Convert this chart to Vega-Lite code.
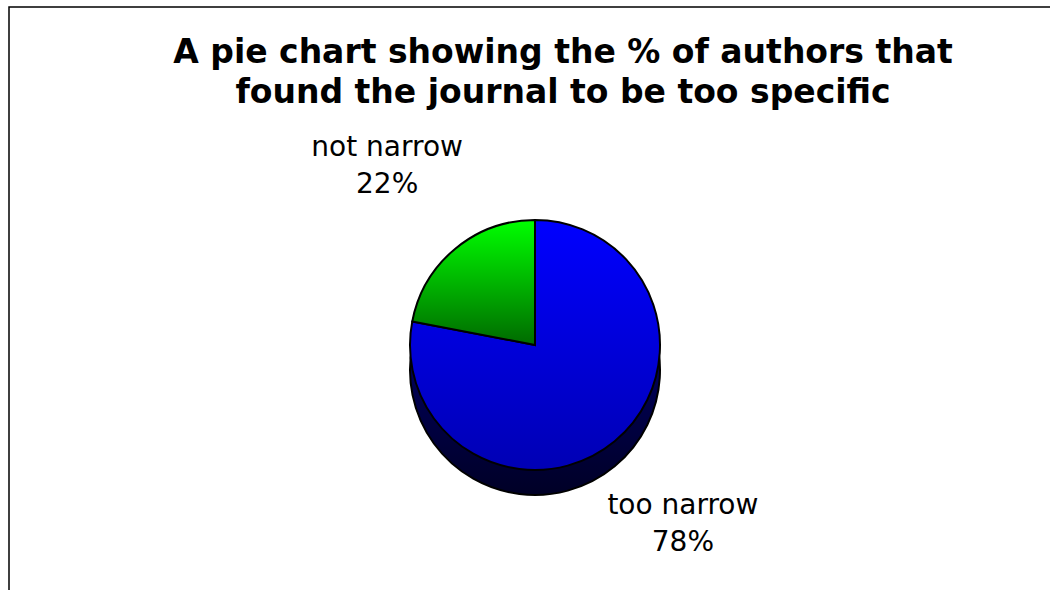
{
  "$schema": "https://vega.github.io/schema/vega-lite/v6.json",
  "width": 1052,
  "height": 676,
  "autosize": "none",
  "padding": {"left": 9, "top": 7, "right": 0, "bottom": 0},
  "background": "white",
  "view": {"stroke": "#000000", "strokeWidth": 1.5, "fill": "#FFFFFF"},
  "config": {"view": {"stroke": "#000000", "strokeWidth": 1.5}},
  "title": {
    "text": ["A pie chart showing the % of authors that", "found the journal to be too specific"],
    "font": "DejaVu Sans",
    "fontSize": 33,
    "fontWeight": "bold",
    "color": "#000000",
    "anchor": "middle",
    "lineHeight": 40,
    "offset": -103,
    "dx": 28
  },
  "data": {
    "values": [
      {"category": "too narrow", "share": 0.78},
      {"category": "not narrow", "share": 0.22}
    ]
  },
  "layer": [
    {
      "mark": {
        "type": "arc",
        "radius": 125,
        "yOffset": 25,
        "stroke": "#000000",
        "strokeWidth": 2,
        "fill": {
          "gradient": "linear",
          "x1": 0, "y1": 0, "x2": 0, "y2": 1,
          "stops": [
            {"offset": 0, "color": "#000086"},
            {"offset": 1, "color": "#000026"}
          ]
        }
      },
      "encoding": {
        "theta": {"field": "share", "type": "quantitative", "stack": true},
        "order": {"field": "category", "sort": "descending"}
      }
    },
    {
      "mark": {"type": "arc", "radius": 125, "stroke": "#000000", "strokeWidth": 2},
      "encoding": {
        "theta": {"field": "share", "type": "quantitative", "stack": true},
        "order": {"field": "category", "sort": "descending"},
        "fill": {
          "condition": {
            "test": "datum.category === 'not narrow'",
            "value": {
              "gradient": "linear",
              "x1": 0, "y1": 0, "x2": 0, "y2": 1,
              "stops": [
                {"offset": 0, "color": "#00FF00"},
                {"offset": 1, "color": "#006A00"}
              ]
            }
          },
          "value": {
            "gradient": "linear",
            "x1": 0, "y1": 0, "x2": 0, "y2": 1,
            "stops": [
              {"offset": 0, "color": "#0000FF"},
              {"offset": 1, "color": "#0000B4"}
            ]
          }
        }
      }
    },
    {
      "mark": {"type": "text", "radius": 232, "dy": -18, "font": "DejaVu Sans", "fontSize": 28, "color": "#000000", "align": "center", "baseline": "middle"},
      "encoding": {
        "theta": {"field": "share", "type": "quantitative", "stack": true},
        "order": {"field": "category", "sort": "descending"},
        "text": {"field": "category", "type": "nominal"}
      }
    },
    {
      "mark": {"type": "text", "radius": 232, "dy": 19, "font": "DejaVu Sans", "fontSize": 28, "color": "#000000", "align": "center", "baseline": "middle"},
      "encoding": {
        "theta": {"field": "share", "type": "quantitative", "stack": true},
        "order": {"field": "category", "sort": "descending"},
        "text": {"field": "share", "type": "quantitative", "format": ".0%"}
      }
    }
  ]
}
